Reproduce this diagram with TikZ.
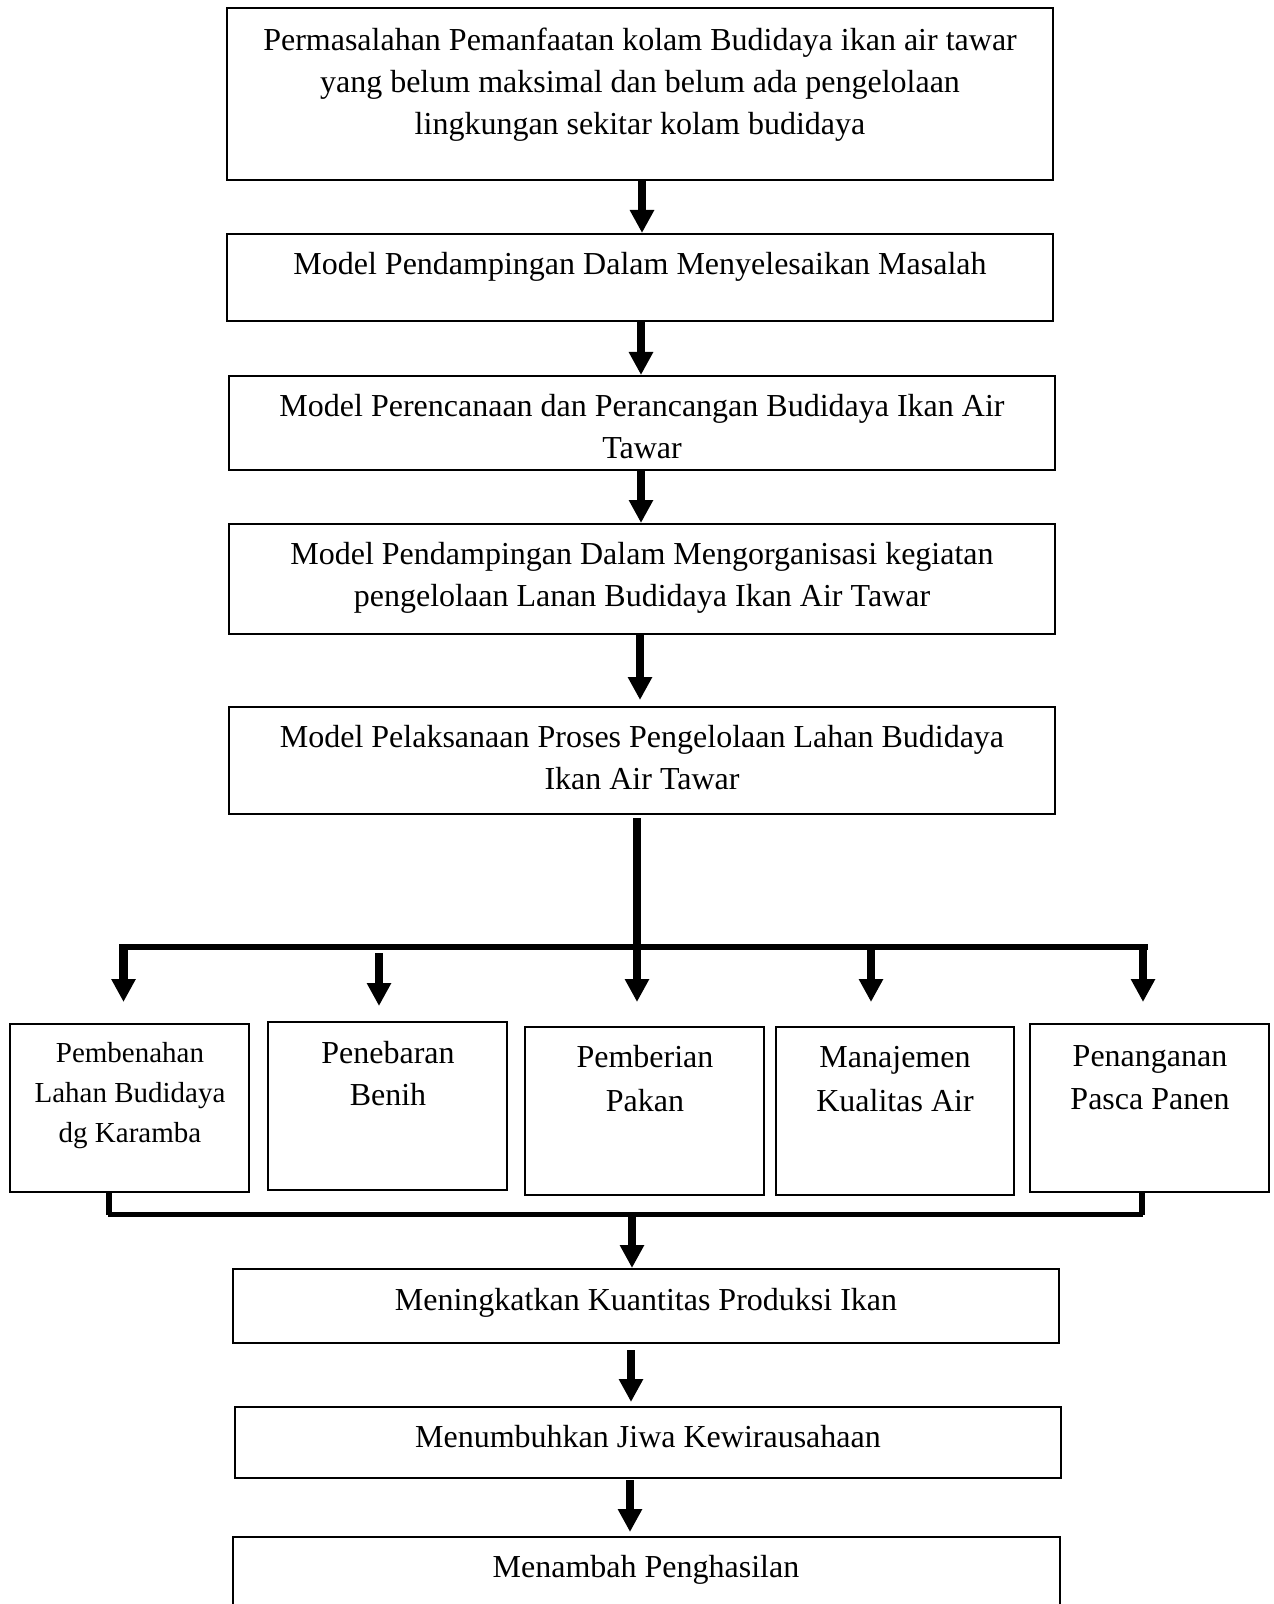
\documentclass[tikz,border=0pt]{standalone}
\usepackage{fontspec}
\setmainfont{Liberation Serif}
\usetikzlibrary{arrows.meta,fit}
\begin{document}
\begin{tikzpicture}[x=0.5pt,y=-0.5pt,
  box/.style={draw, line width=1pt, rectangle, inner sep=0pt},
  txt/.style={align=center, inner sep=0pt, font=\fontsize{16}{21}\selectfont},
  arr/.style={line width=4.2pt, -{Triangle[length=11.5pt,width=11.5pt]}},
  bar/.style={line width=3pt},
  thinbar/.style={line width=2.6pt}]
\clip (0,0) rectangle (1273,1604);
\fill[white] (0,0) rectangle (1273,1604);
% top chain
\node[box, fit={(227,8) (1053,180)}] (b1) {};
\node[box, fit={(227,234) (1053,321)}] (b2) {};
\node[box, fit={(229,376) (1055,470)}] (b3) {};
\node[box, fit={(229,524) (1055,634)}] (b4) {};
\node[box, fit={(229,707) (1055,814)}] (b5) {};
\node[txt] (t1) at (640,84.5) {Permasalahan Pemanfaatan kolam Budidaya ikan air tawar\\yang belum maksimal dan belum ada pengelolaan\\lingkungan sekitar kolam budidaya};
\node[txt] (t2) at (640,267) {Model Pendampingan Dalam Menyelesaikan Masalah};
\node[txt] (t3) at (642,426.5) {Model Perencanaan dan Perancangan Budidaya Ikan Air\\Tawar};
\node[txt] (t4) at (642,578) {Model Pendampingan Dalam Mengorganisasi kegiatan\\pengelolaan Lanan Budidaya Ikan Air Tawar};
\node[txt] (t5) at (642,758) {Model Pelaksanaan Proses Pengelolaan Lahan Budidaya\\Ikan Air Tawar};
\draw[arr] (b1.south -| 642,0) -- (b2.north -| 642,0);
\draw[arr] (b2.south -| 641,0) -- (b3.north -| 641,0);
\draw[arr] (b3.south -| 641,0) -- (b4.north -| 641,0);
\coordinate (c4) at (640,700);
\draw[arr] (b4.south -| c4) -- (c4);
% bottom row boxes
\node[box, fit={(10,1024) (249,1192)}] (bA) {};
\node[box, fit={(268,1022) (507,1190)}] (bB) {};
\node[box, fit={(525,1027) (764,1195)}] (bC) {};
\node[box, fit={(776,1027) (1014,1195)}] (bD) {};
\node[box, fit={(1030,1024) (1269,1192)}] (bE) {};
\node[txt, font=\fontsize{14.5}{20}\selectfont] (tA) at (130,1096) {Pembenahan\\Lahan Budidaya\\dg Karamba};
\node[txt] (tB) at (388,1074) {Penebaran\\Benih};
\node[txt, font=\fontsize{16}{22}\selectfont] (tC) at (645,1079) {Pemberian\\Pakan};
\node[txt, font=\fontsize{16}{22}\selectfont] (tD) at (895,1079) {Manajemen\\Kualitas Air};
\node[txt, font=\fontsize{16}{21.5}\selectfont] (tE) at (1150,1078) {Penanganan\\Pasca Panen};
% distribution tree
\coordinate (s5) at (637,818);
\coordinate (jl) at (119,947);
\coordinate (jr) at (1147.5,947);
\coordinate (k1) at (123.5,1002);
\coordinate (k2) at (379,1006);
\coordinate (k2s) at (379,953);
\coordinate (k3) at (637,1002);
\coordinate (k4) at (871,1002);
\coordinate (k5) at (1143,1002);
\draw[bar] (jl) -- (jr);
\draw[arr] (s5) -- (k3);
\draw[arr] (k1 |- jl) -- (k1);
\draw[arr] (k2s) -- (k2);
\draw[arr] (k4 |- jl) -- (k4);
\draw[arr] (k5 |- jl) -- (k5);
% collection
\coordinate (ml) at (109,1214.5);
\coordinate (mr) at (1142,1214.5);
\draw[thinbar] (ml |- bA.south) -- (ml);
\draw[thinbar] (mr |- bE.south) -- (mr);
\draw[thinbar] ([xshift=-0.65pt]ml) -- ([xshift=0.65pt]mr);
% lower chain
\node[box, fit={(233,1269) (1059,1343)}] (bM) {};
\node[box, fit={(235,1407) (1061,1478)}] (bN) {};
\node[box, fit={(233,1537) (1060,1640)}] (bP) {};
\node[txt] (tM) at (646,1303) {Meningkatkan Kuantitas Produksi Ikan};
\node[txt] (tN) at (648,1437) {Menumbuhkan Jiwa Kewirausahaan};
\node[txt] (tP) at (646,1570) {Menambah Penghasilan};
\coordinate (m0) at (632,1213);
\draw[arr] (m0) -- (bM.north -| m0);
\coordinate (n0) at (631,1350);
\coordinate (n1) at (631,1402);
\draw[arr] (n0) -- (n1);
\coordinate (p0) at (630,1480);
\coordinate (p1) at (630,1532);
\draw[arr] (p0) -- (p1);
\end{tikzpicture}
\end{document}
